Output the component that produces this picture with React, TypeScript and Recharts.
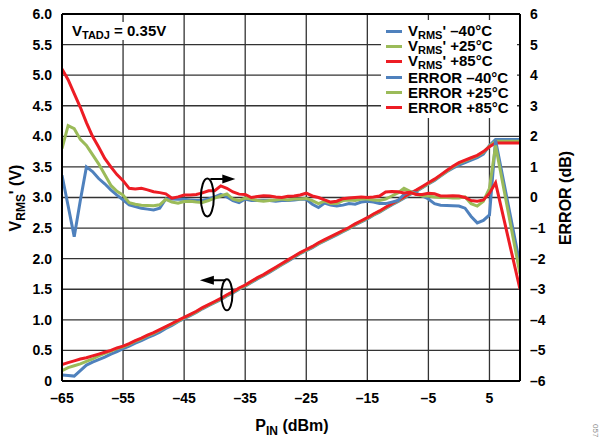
import React from 'react';
import {
  LineChart,
  Line,
  XAxis,
  YAxis,
  CartesianGrid,
  Legend,
  ReferenceDot,
  ReferenceLine,
  Label,
} from 'recharts';

// ---------- data ----------
const pin = [
  -65, -64, -63, -62, -61, -60, -59, -58, -57, -56,
  -55, -54, -53, -52, -51, -50, -49, -48, -47, -46,
  -45, -44, -43, -42, -41, -40, -39, -38, -37, -36,
  -35, -34, -33, -32, -31, -30, -29, -28, -27, -26,
  -25, -24, -23, -22, -21, -20, -19, -18, -17, -16,
  -15, -14, -13, -12, -11, -10, -9, -8, -7, -6,
  -5, -4, -3, -2, -1, 0, 1, 2, 3, 4,
  5, 6, 7, 8, 9, 10,
];

const vrmsM40 = [
  0.1, 0.09, 0.08, 0.17, 0.26, 0.31, 0.35, 0.39, 0.44, 0.48,
  0.53, 0.57, 0.62, 0.66, 0.71, 0.75, 0.8, 0.86, 0.91, 0.97,
  1.02, 1.07, 1.12, 1.18, 1.23, 1.28, 1.33, 1.39, 1.44, 1.5,
  1.55, 1.61, 1.67, 1.72, 1.78, 1.84, 1.9, 1.96, 2.02, 2.08,
  2.13, 2.18, 2.24, 2.29, 2.34, 2.39, 2.44, 2.49, 2.55, 2.6,
  2.65, 2.71, 2.76, 2.82, 2.88, 2.93, 2.99, 3.05, 3.1, 3.16,
  3.22, 3.28, 3.35, 3.42, 3.48, 3.53, 3.57, 3.61, 3.65, 3.71,
  3.85, 3.95, 3.95, 3.95, 3.95, 3.95,
];

const vrmsP25 = [
  0.17, 0.22, 0.25, 0.28, 0.32, 0.36, 0.41, 0.45, 0.49, 0.53,
  0.56, 0.6, 0.65, 0.69, 0.74, 0.78, 0.83, 0.88, 0.93, 0.98,
  1.03, 1.08, 1.13, 1.19, 1.24, 1.29, 1.34, 1.4, 1.45, 1.51,
  1.56, 1.62, 1.68, 1.73, 1.79, 1.85, 1.91, 1.97, 2.03, 2.09,
  2.14, 2.19, 2.25, 2.3, 2.35, 2.4, 2.45, 2.5, 2.56, 2.61,
  2.66, 2.72, 2.77, 2.83, 2.89, 2.94, 3.0, 3.06, 3.11, 3.17,
  3.23, 3.29, 3.36, 3.43, 3.5, 3.56, 3.6, 3.64, 3.68, 3.74,
  3.84, 3.92, 3.92, 3.92, 3.92, 3.92,
];

const vrmsP85 = [
  0.27, 0.3, 0.33, 0.36, 0.38, 0.41, 0.44, 0.47, 0.5, 0.54,
  0.57, 0.61, 0.66, 0.7, 0.75, 0.79, 0.84, 0.89, 0.94, 0.99,
  1.04, 1.09, 1.14, 1.2, 1.25, 1.3, 1.35, 1.41, 1.46, 1.52,
  1.57, 1.63, 1.69, 1.74, 1.8, 1.86, 1.92, 1.98, 2.04, 2.1,
  2.15, 2.2, 2.26, 2.31, 2.36, 2.41, 2.46, 2.51, 2.57, 2.62,
  2.67, 2.73, 2.78, 2.84, 2.9, 2.95, 3.01, 3.07, 3.12, 3.18,
  3.24, 3.3, 3.37, 3.44, 3.51, 3.57, 3.61, 3.65, 3.69, 3.75,
  3.83, 3.89, 3.89, 3.89, 3.89, 3.89,
];

const errM40 = [
  0.73, -0.27, -1.28, -0.1, 1.0, 0.85, 0.62, 0.45, 0.25, 0.08,
  -0.08, -0.24, -0.3, -0.35, -0.38, -0.41, -0.35, -0.05, -0.05, -0.06,
  -0.06, -0.08, -0.1, -0.1, -0.05, 0.02, 0.1, 0.02, -0.1, -0.17,
  -0.05, -0.1, -0.1, -0.1, -0.1, -0.12, -0.1, -0.1, -0.08, -0.06,
  -0.06, -0.22, -0.33, -0.18, -0.25, -0.28, -0.25, -0.2, -0.22, -0.15,
  -0.12, -0.15, -0.2, -0.2, -0.15, -0.1, 0.1, 0.19, 0.15, 0.05,
  -0.05, -0.2, -0.25, -0.26, -0.27, -0.28, -0.35, -0.62, -0.83, -0.75,
  -0.57, 1.87, null, null, null, -2.2,
];

const errP25 = [
  1.6, 2.35, 2.25, 1.9, 1.7, 1.4, 1.1, 0.75, 0.4, 0.2,
  0.08, -0.17, -0.22, -0.25, -0.26, -0.27, -0.24, -0.06, -0.15, -0.19,
  -0.13, -0.12, -0.15, -0.16, -0.1, -0.02, 0.05, 0.12, -0.05, -0.1,
  -0.02, -0.05, -0.1, -0.12, -0.1, -0.08, -0.05, -0.08, -0.05, -0.05,
  -0.03, -0.1, -0.2, -0.12, -0.2, -0.2, -0.1, -0.08, -0.1, -0.05,
  -0.05, -0.08, -0.1, -0.05, 0.05, 0.15, 0.3, 0.2, 0.1, 0.05,
  0.05, 0.02, 0.0, 0.0, -0.02, -0.02, 0.02, -0.2, -0.28, -0.12,
  0.3, 1.7, null, null, null, -2.5,
];

const errP85 = [
  4.2, 3.85, 3.4, 2.95, 2.45, 2.0, 1.65, 1.28, 1.0, 0.75,
  0.55, 0.3, 0.28, 0.3, 0.25, 0.19, 0.16, 0.12, -0.02, 0.02,
  0.08, 0.08, 0.1, 0.15, 0.22, 0.22, 0.38, 0.3, 0.18, 0.11,
  0.1, 0.0, 0.03, 0.06, 0.05, 0.02, 0.0, 0.04, 0.05, 0.08,
  0.14, 0.05, 0.0, -0.08, -0.15, -0.12, -0.04, -0.02, 0.0, 0.02,
  0.0, 0.02, 0.05, 0.18, 0.2, 0.19, 0.15, 0.17, 0.1, 0.1,
  0.14, 0.12, 0.05, 0.05, 0.06, 0.05, 0.0, -0.1, -0.12, -0.08,
  0.14, 0.48, null, null, null, -3.0,
];

const xTicks = [-65, -55, -45, -35, -25, -15, -5, 5];
const leftTicks = [0, 0.5, 1, 1.5, 2, 2.5, 3, 3.5, 4, 4.5, 5, 5.5, 6];
const rightTicks = [-6, -5, -4, -3, -2, -1, 0, 1, 2, 3, 4, 5, 6];

const seriesNames = [
  "VRMS' \u201340\u00B0C",
  "VRMS' +25\u00B0C",
  "VRMS' +85\u00B0C",
  'ERROR \u201340\u00B0C',
  'ERROR +25\u00B0C',
  'ERROR +85\u00B0C',
];

const data = pin.map((p, i) => ({
  pin: p,
  v40: vrmsM40[i],
  v25: vrmsP25[i],
  v85: vrmsP85[i],
  e40: errM40[i],
  e25: errP25[i],
  e85: errP85[i],
}));

// ---------- style ----------
const FONT = '"Liberation Sans", Arial, Helvetica, sans-serif';
const BLUE = '#4F81BD';
const GREEN = '#9BBB59';
const RED = '#ED1C24';
const GRID = '#333333';

const fmtSigned = (v: number) => (v < 0 ? '\u2013' + Math.abs(v) : String(v));
const fmtLeft = (v: number) => (v === 0 ? '0' : v.toFixed(1));

const tickStyle = { fill: '#000', fontSize: 14, fontWeight: 'bold', fontFamily: FONT };

const formatName = (name: string) => {
  if (name.startsWith("VRMS'")) {
    return (
      <>
        V
        <span style={{ fontSize: 11, position: 'relative', top: 3 }}>RMS</span>
        {name.slice(4)}
      </>
    );
  }
  return name;
};

const renderLegend = (props: any) => {
  const payload = [...(props.payload || [])].sort(
    (a: any, b: any) => seriesNames.indexOf(String(a.value)) - seriesNames.indexOf(String(b.value))
  );
  return (
    <div
      style={{
        background: '#fff',
        width: 136,
        height: 98,
        paddingTop: 4,
        boxSizing: 'border-box',
        fontFamily: FONT,
        fontWeight: 'bold',
        fontSize: 15,
        color: '#000',
      }}
    >
      {payload.map((e: any, i: number) => (
        <div
          key={i}
          style={{
            display: 'flex',
            alignItems: 'center',
            height: 15.2,
            lineHeight: '15.2px',
            whiteSpace: 'nowrap',
          }}
        >
          <span
            style={{
              display: 'inline-block',
              width: 16,
              height: 3,
              background: e.color,
              marginLeft: 5,
              marginRight: 6,
              flex: 'none',
            }}
          />
          <span>{formatName(String(e.value))}</span>
        </div>
      ))}
    </div>
  );
};

const RightArrowMarker = (props: any) => {
  const { cx, cy } = props;
  return (
    <g>
      <ellipse cx={cx} cy={cy} rx={6.5} ry={19} fill="none" stroke="#000" strokeWidth={2} />
      <line x1={cx + 3} y1={cy - 18.5} x2={cx + 17} y2={cy - 18.5} stroke="#000" strokeWidth={2} />
      <polygon
        points={`${cx + 15},${cy - 23} ${cx + 28},${cy - 18.5} ${cx + 15},${cy - 14}`}
        fill="#000"
      />
    </g>
  );
};

const LeftArrowMarker = (props: any) => {
  const { cx, cy } = props;
  return (
    <g>
      <ellipse cx={cx} cy={cy} rx={5.5} ry={15.5} fill="none" stroke="#000" strokeWidth={2} />
      <line x1={cx - 1} y1={cy - 14.5} x2={cx - 15} y2={cy - 14.5} stroke="#000" strokeWidth={2} />
      <polygon
        points={`${cx - 13},${cy - 19} ${cx - 27},${cy - 14.5} ${cx - 13},${cy - 10}`}
        fill="#000"
      />
    </g>
  );
};

const titleStyle = { fontFamily: FONT, fontWeight: 'bold' as const, fontSize: 16, fill: '#000' };

export default function App() {
  return (
    <div style={{ position: 'absolute', left: 0, top: 0, width: 599, height: 438, background: '#fff' }}>
      <LineChart
        width={599}
        height={438}
        data={data}
        margin={{ top: 14, right: 29, bottom: 27, left: 12 }}
      >
        <CartesianGrid yAxisId="left" stroke={GRID} strokeWidth={1.3} />
        <XAxis
          dataKey="pin"
          type="number"
          domain={[-65, 10]}
          ticks={xTicks}
          tickFormatter={fmtSigned}
          tick={tickStyle}
          tickLine={false}
          tickSize={0}
          tickMargin={12}
          height={30}
          axisLine={{ stroke: '#000', strokeWidth: 2 }}
          allowDataOverflow
        >
          <Label
            content={() => (
              <text x={292} y={431} textAnchor="middle" style={titleStyle}>
                P
                <tspan fontSize={12} dy={4}>IN</tspan>
                <tspan dy={-4}> (dBm)</tspan>
              </text>
            )}
          />
        </XAxis>
        <YAxis
          yAxisId="left"
          orientation="left"
          domain={[0, 6]}
          ticks={leftTicks}
          tickFormatter={fmtLeft}
          tick={tickStyle}
          tickLine={false}
          tickSize={0}
          tickMargin={10}
          width={50}
          axisLine={{ stroke: '#000', strokeWidth: 2 }}
          allowDataOverflow
        >
          <Label
            content={() => (
              <text x={21} y={198} transform="rotate(-90 21 198)" textAnchor="middle" style={titleStyle}>
                V
                <tspan fontSize={12} dy={4}>RMS</tspan>
                <tspan dy={-4}>' (V)</tspan>
              </text>
            )}
          />
        </YAxis>
        <YAxis
          yAxisId="right"
          orientation="right"
          domain={[-6, 6]}
          ticks={rightTicks}
          tickFormatter={fmtSigned}
          tick={tickStyle}
          tickLine={false}
          tickSize={0}
          tickMargin={10}
          width={50}
          axisLine={{ stroke: '#000', strokeWidth: 2 }}
          allowDataOverflow
        >
          <Label
            content={() => (
              <text x={571} y={198} transform="rotate(-90 571 198)" textAnchor="middle" style={titleStyle}>
                ERROR (dB)
              </text>
            )}
          />
        </YAxis>
        <ReferenceLine yAxisId="left" y={6} stroke="#000" strokeWidth={2} />

        <Line yAxisId="left" dataKey="v40" name={seriesNames[0]} stroke={BLUE} strokeWidth={3} dot={false} isAnimationActive={false} connectNulls />
        <Line yAxisId="left" dataKey="v25" name={seriesNames[1]} stroke={GREEN} strokeWidth={3} dot={false} isAnimationActive={false} connectNulls />
        <Line yAxisId="left" dataKey="v85" name={seriesNames[2]} stroke={RED} strokeWidth={3} dot={false} isAnimationActive={false} connectNulls />
        <Line yAxisId="right" dataKey="e40" name={seriesNames[3]} stroke={BLUE} strokeWidth={3} dot={false} isAnimationActive={false} connectNulls />
        <Line yAxisId="right" dataKey="e25" name={seriesNames[4]} stroke={GREEN} strokeWidth={3} dot={false} isAnimationActive={false} connectNulls />
        <Line yAxisId="right" dataKey="e85" name={seriesNames[5]} stroke={RED} strokeWidth={3} dot={false} isAnimationActive={false} connectNulls />

        <ReferenceDot yAxisId="right" x={-41.2} y={0} r={1} ifOverflow="visible" shape={RightArrowMarker} />
        <ReferenceDot yAxisId="left" x={-38} y={1.41} r={1} ifOverflow="visible" shape={LeftArrowMarker} />

        <Legend
          layout="vertical"
          align="center"
          verticalAlign="middle"
          itemSorter={null as any}
          content={renderLegend}
          wrapperStyle={{ left: 381, top: 20, width: 136, height: 98 }}
        />
      </LineChart>

      <div
        style={{
          position: 'absolute',
          left: 66,
          top: 22,
          height: 18,
          lineHeight: '18px',
          paddingLeft: 6,
          paddingRight: 6,
          background: '#fff',
          fontFamily: FONT,
          fontWeight: 'bold',
          fontSize: 15,
          color: '#000',
          whiteSpace: 'nowrap',
        }}
      >
        V<span style={{ fontSize: 11, position: 'relative', top: 3 }}>TADJ</span> = 0.35V
      </div>

      <div
        style={{
          position: 'absolute',
          left: 591,
          top: 424,
          writingMode: 'vertical-rl',
          fontFamily: FONT,
          fontSize: 8,
          color: '#888',
        }}
      >
        057
      </div>
    </div>
  );
}
